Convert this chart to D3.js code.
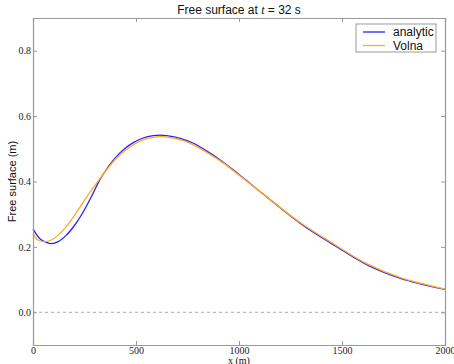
<!DOCTYPE html>
<html>
<head>
<meta charset="utf-8">
<script src="https://cdn.jsdelivr.net/npm/d3@7"></script>
<style>
  body { margin: 0; background: #fff; }
  svg { display: block; }
</style>
</head>
<body>
<figure id="chart" style="margin:0"></figure>
<script>
// analytic solution
const analyticX = [0, 32, 65, 89, 122, 162, 203, 243, 284, 324, 365, 405, 446, 487, 535, 584, 617, 649, 714, 779, 844, 909, 973, 1038, 1103, 1298, 1460, 1622, 1784, 2000];
const analyticY = [0.255, 0.226, 0.214, 0.210, 0.216, 0.236, 0.267, 0.306, 0.354, 0.405, 0.445, 0.476, 0.501, 0.519, 0.533, 0.540, 0.542, 0.540, 0.532, 0.517, 0.493, 0.466, 0.435, 0.402, 0.369, 0.272, 0.206, 0.145, 0.104, 0.070];

// Volna result
const volnaX = [0, 24, 57, 89, 122, 162, 203, 243, 284, 324, 365, 405, 446, 487, 535, 584, 630, 680, 730, 779, 844, 909, 973, 1038, 1103, 1298, 1460, 1622, 1784, 2000];
const volnaY = [0.240, 0.221, 0.216, 0.221, 0.236, 0.262, 0.298, 0.336, 0.374, 0.408, 0.442, 0.471, 0.494, 0.512, 0.527, 0.535, 0.537, 0.533, 0.525, 0.512, 0.489, 0.463, 0.433, 0.401, 0.369, 0.274, 0.209, 0.148, 0.106, 0.071];

const xTicks = [0, 500, 1000, 1500, 2000];
const yTicks = [0.0, 0.2, 0.4, 0.6, 0.8];
const seriesNames = ["analytic", "Volna"];
const seriesColors = ["#2222ff", "#ffaa22"];

const W = 454, H = 364;
const margin = { top: 18, right: 9, bottom: 19, left: 33 };
const width = W - margin.left - margin.right;
const height = H - margin.top - margin.bottom;

const svg = d3.select("figure#chart")
  .append("svg")
  .attr("width", W)
  .attr("height", H);

const g = svg.append("g")
  .attr("transform", "translate(" + margin.left + "," + margin.top + ")");

const x = d3.scaleLinear().domain([0, 2000]).range([0, width]);
const y = d3.scaleLinear().domain([-0.1, 0.9]).range([height, 0]);

// zero line
g.append("line")
  .attr("x1", 0).attr("x2", width)
  .attr("y1", y(0)).attr("y2", y(0))
  .attr("stroke", "#aaa")
  .attr("stroke-width", 1)
  .attr("stroke-dasharray", "3,3");

// lines
const line = d3.line()
  .x(d => x(d[0]))
  .y(d => y(d[1]))
  .curve(d3.curveCatmullRom.alpha(0.5));

const series = [
  d3.zip(analyticX, analyticY),
  d3.zip(volnaX, volnaY)
];

series.forEach((s, i) => {
  g.append("path")
    .datum(s)
    .attr("fill", "none")
    .attr("stroke", seriesColors[i])
    .attr("stroke-width", 1.3)
    .attr("d", line);
});

// axes with inward ticks on all four sides
const tickFont = "'Liberation Serif', 'DejaVu Serif', serif";

const axBottom = g.append("g")
  .attr("transform", "translate(0," + height + ")")
  .call(d3.axisBottom(x).tickValues(xTicks).tickSize(-4).tickPadding(1.5).tickFormat(d3.format("d")));
const axTop = g.append("g")
  .call(d3.axisTop(x).tickValues(xTicks).tickSize(-4).tickFormat(""));
const axLeft = g.append("g")
  .call(d3.axisLeft(y).tickValues(yTicks).tickSize(-4).tickPadding(2).tickFormat(d3.format(".1f")));
const axRight = g.append("g")
  .attr("transform", "translate(" + width + ",0)")
  .call(d3.axisRight(y).tickValues(yTicks).tickSize(-4).tickFormat(""));

[axBottom, axTop, axLeft, axRight].forEach(a => {
  a.attr("font-family", tickFont).attr("font-size", 10);
  a.select(".domain").attr("stroke", "#999").attr("stroke-width", 1.2);
  a.selectAll(".tick line").attr("stroke", "#999");
  a.selectAll(".tick text").attr("fill", "#222");
});

// title
const title = svg.append("text")
  .attr("x", margin.left + width / 2)
  .attr("y", 14)
  .attr("text-anchor", "middle")
  .style("font-family", "'Liberation Sans', Arial, sans-serif")
  .style("font-size", "12px")
  .attr("fill", "#111");
title.append("tspan").text("Free surface at ");
title.append("tspan").style("font-family", tickFont).style("font-style", "italic").text("t");
title.append("tspan").text(" = 32 s");

// axis labels
svg.append("text")
  .attr("x", margin.left + width / 2)
  .attr("y", 363.5)
  .attr("text-anchor", "middle")
  .style("font-family", tickFont)
  .style("font-size", "10px")
  .attr("fill", "#111")
  .text("x (m)");

svg.append("text")
  .attr("transform", "translate(16," + (margin.top + height / 2) + ") rotate(-90)")
  .attr("text-anchor", "middle")
  .style("font-family", "'Liberation Sans', Arial, sans-serif")
  .style("font-size", "11px")
  .attr("fill", "#111")
  .text("Free surface (m)");

// legend
const legend = svg.append("g").attr("transform", "translate(356,24)");
legend.append("rect")
  .attr("width", 80).attr("height", 28)
  .attr("fill", "#fff")
  .attr("stroke", "#999");
seriesNames.forEach((name, i) => {
  legend.append("line")
    .attr("x1", 7).attr("x2", 29)
    .attr("y1", 8 + i * 13.5).attr("y2", 8 + i * 13.5)
    .attr("stroke", seriesColors[i])
    .attr("stroke-width", 1.3);
  legend.append("text")
    .attr("x", 37)
    .attr("y", 12 + i * 13.5)
    .style("font-family", "'Liberation Sans', Arial, sans-serif")
    .style("font-size", "12px")
    .attr("fill", "#111")
    .text(name);
});
</script>
</body>
</html>
